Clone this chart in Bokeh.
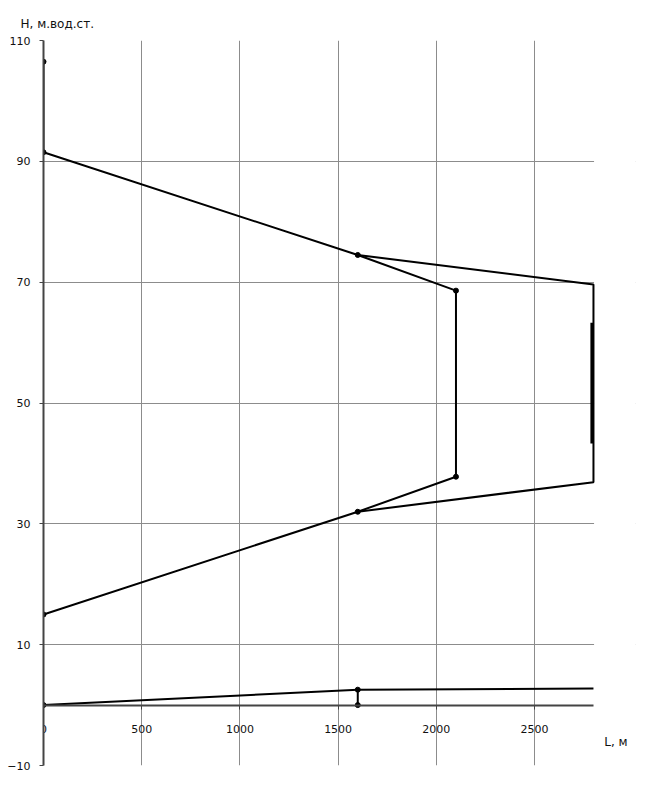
from bokeh.plotting import figure
from bokeh.models import FixedTicker, Range1d
from bokeh.core.properties import value
from bokeh.embed import file_html
from bokeh.resources import INLINE

# Polylines (L, m ; H, m water column)
upper_x = [0, 0, 1600, 2100, 2100, 1600, 0]
upper_y = [106.5, 91.5, 74.5, 68.6, 37.8, 32.0, 15.0]
branch_x = [1600, 2800, 2800, 1600]
branch_y = [74.5, 69.6, 36.9, 32.0]
inner_x = [2792, 2792]
inner_y = [63.3, 43.3]
ground_x = [1600, 1600, 1600, 2800]
ground_y = [0.0, 2.55, 2.55, 2.75]
ground_line_x = [0, 1600]
ground_line_y = [0.0, 2.55]
pts_x = [0, 0, 1600, 2100, 2100, 1600, 0, 1600, 1600, 0]
pts_y = [106.5, 91.5, 74.5, 68.6, 37.8, 32.0, 15.0, 2.55, 0.0, 0.0]

x_ticks = [0, 500, 1000, 1500, 2000, 2500]
y_ticks = [-10, 10, 30, 50, 70, 90, 110]
x_max = 2800
y_min, y_max = -10, 110
x_title = "L, м"
y_title = "Н, м.вод.ст."

# frame extends past x_max so the x-axis title can sit at the right of the grid
p = figure(width=655, height=780, output_backend="svg", toolbar_location=None,
           x_range=Range1d(0, 3014), y_range=Range1d(y_min, y_max),
           x_axis_location="above",
           min_border_left=43, min_border_right=20, min_border_top=40,
           min_border_bottom=15)
p.outline_line_color = None
p.background_fill_color = "white"

p.title.text = y_title
p.title.align = "left"
p.title.offset = -23
p.title.standoff = 20
p.title.text_font = "DejaVu Sans"
p.title.text_font_size = "12px"
p.title.text_font_style = "normal"
p.title.text_color = "#111111"

p.xaxis.ticker = FixedTicker(ticks=x_ticks)
p.yaxis.ticker = FixedTicker(ticks=y_ticks)
p.xgrid.ticker = FixedTicker(ticks=x_ticks)
p.ygrid.ticker = FixedTicker(ticks=y_ticks)
for g in (p.xgrid, p.ygrid):
    g.grid_line_color = "#8c8c8c"
    g.grid_line_width = 1
p.xaxis.fixed_location = 0
p.xaxis.bounds = (0, x_max)
p.yaxis.bounds = (y_min, y_max)
for ax in (p.xaxis, p.yaxis):
    ax.axis_line_color = "#444444"
    ax.axis_line_width = 2
    ax.major_tick_line_color = "#444444"
    ax.major_tick_line_width = 1
    ax.minor_tick_line_color = None
    ax.major_label_text_font = "DejaVu Sans"
    ax.major_label_text_font_size = "11px"
    ax.major_label_text_color = "#111111"
p.yaxis.major_tick_out = 4
p.yaxis.major_tick_in = 0
p.yaxis.major_label_standoff = 9
p.xaxis.major_tick_out = 0
p.xaxis.major_tick_in = 4
p.xaxis.major_label_standoff = -28

# white strip hiding the grid beyond x_max
p.quad(left=[x_max + 3], right=[3100], bottom=[y_min - 2], top=[y_max + 2],
       fill_color="white", line_color=None)

lw = 2
p.line(upper_x, upper_y, line_color="black", line_width=lw)
p.line(branch_x, branch_y, line_color="black", line_width=lw)
p.line(inner_x, inner_y, line_color="black", line_width=3)
p.line(ground_line_x, ground_line_y, line_color="black", line_width=lw)
p.line(ground_x, ground_y, line_color="black", line_width=lw)
p.scatter(pts_x, pts_y, size=5, color="black")

p.text(x=[2855], y=[-7.3], text=[x_title], text_font=value("DejaVu Sans"),
       text_font_size="12px", text_color="#111111", text_baseline="bottom")

open("out.html", "w").write(file_html(p, INLINE))
